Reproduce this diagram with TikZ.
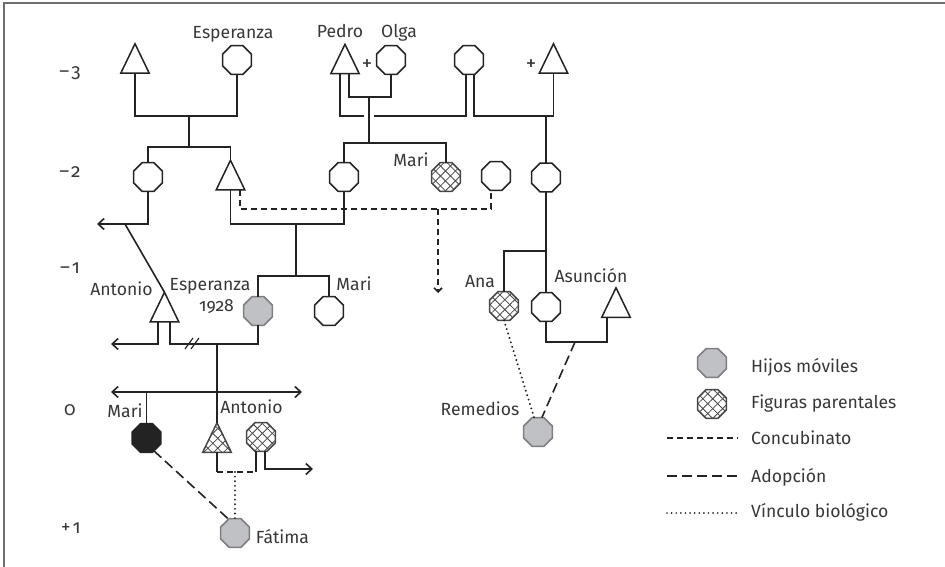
\documentclass[tikz,border=0pt]{standalone}
\usepackage{fontspec}
\setmainfont{Fira Sans}[Numbers=OldStyle]
\usetikzlibrary{arrows.meta,patterns.meta,shapes.geometric}
\definecolor{linec}{RGB}{35,35,35}
\definecolor{textc}{RGB}{55,55,55}
\definecolor{grayfill}{RGB}{192,193,197}
\definecolor{grayedge}{RGB}{125,125,130}
\definecolor{hatchc}{RGB}{70,70,70}
\definecolor{framec}{RGB}{110,110,110}
\begin{document}
\begin{tikzpicture}[x=1pt, y=-1pt,
  oct/.style={regular polygon, regular polygon sides=8, minimum size=31pt, inner sep=0pt, outer sep=0pt, draw=linec, line width=1.5pt, fill=white},
  octgray/.style={oct, fill=grayfill, draw=grayedge},
  octblack/.style={oct, fill=linec},
  hatch/.style={pattern={Lines[angle=45,distance=7pt,line width=0.8pt]}, pattern color=hatchc, postaction={pattern={Lines[angle=-45,distance=7pt,line width=0.8pt]}, pattern color=hatchc}},
  octhatch/.style={oct, draw=hatchc, hatch},
  trib/.style={rectangle, minimum width=28.5pt, minimum height=29.5pt, inner sep=0pt, outer sep=0pt},
  triline/.style={draw=linec, line width=1.5pt, line join=miter, fill=white},
  conn/.style={draw=linec, line width=1.6pt},
  conc/.style={conn, dash pattern=on 6pt off 4pt},
  adop/.style={conn, dash pattern=on 10pt off 5pt},
  bio/.style={draw=linec, line width=2.2pt, line cap=round, dash pattern=on 0.01pt off 4.6pt},
  arr/.style={-{Straight Barb[length=6pt,width=11pt]}},
  arrsmall/.style={-{Straight Barb[length=4pt,width=8pt]}},
  lbl/.style={anchor=base, inner sep=0pt, text=textc, font=\fontsize{17.6}{20}\selectfont},
  gen/.style={lbl, font=\fontsize{19}{22}\selectfont},
  plus/.style={inner sep=0pt, text=textc, font=\fontsize{21}{24}\selectfont}
]
\useasboundingbox (0,0) rectangle (945,567);
\draw[framec, line width=1.3pt] (4,567) -- (4,3) -- (945,3);

% generation -3
\node[trib] (t1) at (135,58.5) {};
\node[oct] (esp) at (237,60) {};
\node[trib] (pedro) at (345,59) {};
\node[oct] (olga) at (391,60) {};
\node[oct] (o3) at (469,60) {};
\node[trib] (tr) at (553.5,58.5) {};
% generation -2
\node[oct] (o21) at (148,177) {};
\node[trib] (t22) at (230.5,175) {};
\node[oct] (o23) at (344,177) {};
\node[octhatch] (mari2) at (446,177) {};
\node[oct] (o25) at (496,176) {};
\node[oct] (o26) at (546,177.5) {};
% generation -1
\node[trib] (ant) at (164.5,307) {};
\node[octgray] (esp2) at (258,311) {};
\node[oct] (mari1) at (329,311) {};
\node[octhatch] (ana) at (504,306) {};
\node[oct] (asu) at (546,307) {};
\node[trib] (tasu) at (616,302.5) {};
% generation 0
\node[octblack] (mari0) at (146.5,438) {};
\node[trib] (ant0) at (217,437.5) {};
\node[octhatch] (hx0) at (261,437) {};
\node[octgray] (rem) at (538,432) {};
% generation +1
\node[octgray] (fat) at (235,533) {};

\foreach \n in {t1,pedro,tr,t22,ant,tasu}
  \draw[triline] (\n.south west) -- (\n.north) -- (\n.south east) -- cycle;
\draw[triline, draw=hatchc, hatch] (ant0.south west) -- (ant0.north) -- (ant0.south east) -- cycle;

% junctions
\coordinate (j1) at (189,116);
\coordinate (s1) at (189,147);
\coordinate (j2) at (369,97);
\coordinate (s2) at (369,143);
\coordinate (g1) at (364,116);
\coordinate (g2) at (374,116);
\coordinate (j3) at (546,116);
\coordinate (a1) at (97,224);
\coordinate (d1) at (125,224);
\coordinate (j4) at (296,224);
\coordinate (s4) at (296,276);
\coordinate (j5) at (438,209);
\coordinate (a2) at (438,293);
\coordinate (a3) at (111,344);
\coordinate (j6) at (217,344);
\coordinate (sl) at (193,344);
\coordinate (b1) at (111,392);
\coordinate (b2) at (302,392);
\coordinate (s7) at (146.5,392);
\coordinate (j7a) at (217,472);
\coordinate (j7) at (235,472);
\coordinate (j7b) at (256,472);
\coordinate (a4) at (313,469);
\coordinate (j8) at (546,251);
\coordinate (j9) at (575,342);

% connectors
\draw[conn] (t1.south) |- (j1) -| (esp.south);
\draw[conn] (j1) -- (s1);
\draw[conn] (o21.north) |- (s1) -| (t22.north);
\draw[conn] ([xshift=4pt]pedro.south) |- (j2) -| (olga.south);
\draw[conn] (j2) -- (s2);
\draw[conn] (o23.north) |- (s2) -| (mari2.north);
\draw[conn] ([xshift=-5pt]pedro.south) |- (g1);
\draw[conn] (g2) -| ([xshift=-3pt]o3.south);
\draw[conn] ([xshift=5pt]o3.south) |- (j3) -| (tr.south);
\draw[conn] (j3) -- (o26.north);
\draw[conn, arr] (o21.south) |- (a1);
\draw[conn] (d1) -- (ant.north);
\draw[conn] (t22.south) |- (j4) -| (o23.south);
\draw[conn] (j4) -- (s4);
\draw[conn] (esp2.north) |- (s4) -| (mari1.north);
\draw[conc] ([xshift=9.5pt]t22.south) |- (j5) -| ([xshift=-5pt]o25.south);
\draw[conc, arrsmall] (j5) -- (a2);
\draw[conn, arr] ([xshift=-6.5pt]ant.south) |- (a3);
\draw[conn] ([xshift=5.5pt]ant.south) |- (j6) -| (esp2.south);
\draw[conn, line width=1.2pt] ([shift={(-8,5)}]sl) -- ([shift={(0,-6)}]sl)
  ([shift={(-2,5)}]sl) -- ([shift={(6,-6)}]sl);
\draw[conn] (j6) -- (ant0.north);
\draw[conn, {Straight Barb[length=6pt,width=11pt]}-{Straight Barb[length=6pt,width=11pt]}] (b1) -- (b2);
\draw[conn] (s7) -- (mari0.north);
\draw[conn] (ant0.south) -- (j7a);
\draw[conc] (j7a) -- (j7b);
\draw[conn] (j7b) -- ([xshift=-5pt]hx0.south);
\draw[conn, arr] ([xshift=4pt]hx0.south) |- (a4);
\draw[bio] (j7) -- (fat.north);
\draw[adop] (mari0.300) -- (fat.115);
\draw[conn] (o26.south) -- (asu.north);
\draw[conn] (j8) -| (ana.north);
\draw[conn] (asu.south) |- (j9) -| ([xshift=-9pt]tasu.south);
\draw[adop] (j9) -- (rem.75);
\draw[bio] (ana.south) -- (rem.105);

% labels
\node[lbl] (lEsp) at (233,39) {Esperanza};
\node[lbl] (lPedro) at (340,38) {Pedro};
\node[lbl] (lOlga) at (399,38) {Olga};
\node[plus] (p1) at (367,65) {+};
\node[plus] (p2) at (531,65) {+};
\node[lbl] (lMari2) at (411,166) {Mari};
\node[lbl] (lAnt) at (121.5,295) {Antonio};
\node[lbl] (lEsp2) at (210,290) {Esperanza};
\node[lbl] (l1928) at (216.5,311) {1928};
\node[lbl] (lMari1) at (354,290) {Mari};
\node[lbl] (lAna) at (480,287) {Ana};
\node[lbl] (lAsu) at (591,282) {Asunción};
\node[lbl] (lMari0) at (125,417) {Mari};
\node[lbl] (lAnt0) at (251.5,413) {Antonio};
\node[lbl] (lRem) at (480,415) {Remedios};
\node[lbl] (lFat) at (282.5,543) {Fátima};
% generation numbers
\node[gen] (gm3) at (70,78) {–\kern2pt3};
\node[gen] (gm2) at (70,177) {–\kern2pt2};
\node[gen] (gm1) at (70,273) {–\kern2pt1};
\node[gen] (g0) at (70,415) {0};
\node[gen] (gp1) at (71,533) {+\kern2pt1};

% legend
\node[octgray] (lg1) at (712,363) {};
\node[octhatch] (lg2) at (712,404) {};
\node[lbl, anchor=base west] (lt1) at (751,372) {Hijos móviles};
\node[lbl, anchor=base west] (lt2) at (751,408) {Figuras parentales};
\coordinate (lc1) at (667,438);
\coordinate (lc2) at (738,438);
\coordinate (ld1) at (667,476);
\coordinate (ld2) at (738,476);
\coordinate (le1) at (667,513);
\coordinate (le2) at (738,513);
\draw[conc, line width=1.3pt] (lc1) -- (lc2);
\draw[adop, line width=1.3pt] (ld1) -- (ld2);
\draw[bio, line width=1.8pt] (le1) -- (le2);
\node[lbl, anchor=base west] (lt3) at (751,444) {Concubinato};
\node[lbl, anchor=base west] (lt4) at (751,482) {Adopción};
\node[lbl, anchor=base west] (lt5) at (751,517) {Vínculo biológico};
\end{tikzpicture}
\end{document}
